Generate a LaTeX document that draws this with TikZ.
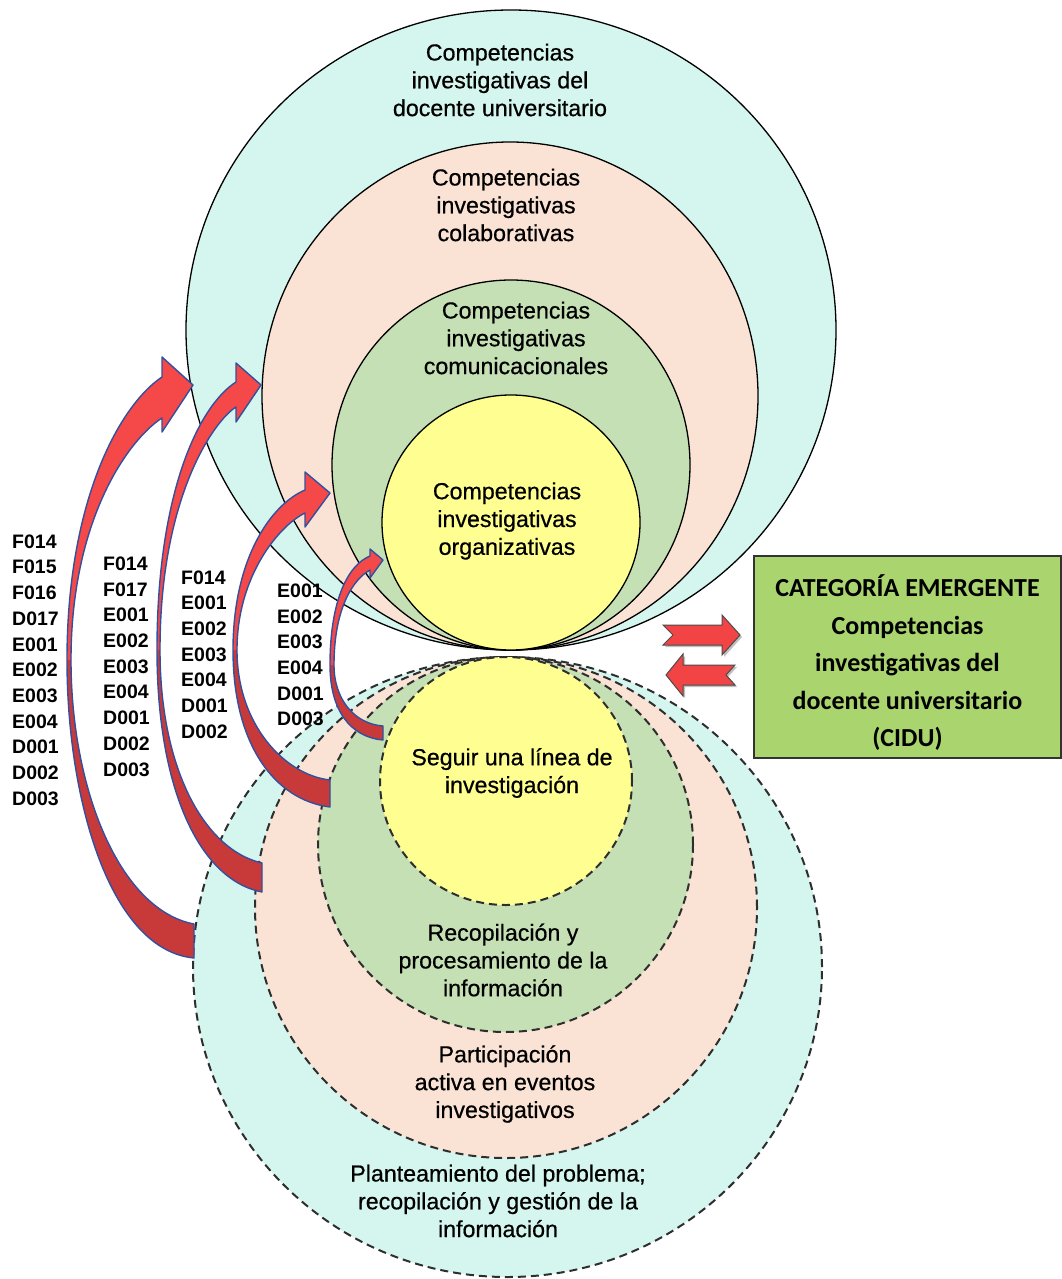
\documentclass[tikz,border=0pt]{standalone}
\usepackage{fontspec}
\setmainfont{Liberation Sans}
\newfontfamily\circfont{Liberation Sans}[FakeBold=0.6]
\newfontfamily\calfont{Carlito}
\usetikzlibrary{shapes.geometric}
\definecolor{tealc}{RGB}{213,246,239}
\definecolor{peachc}{RGB}{250,227,213}
\definecolor{greenc}{RGB}{197,224,180}
\definecolor{yellowc}{RGB}{255,255,145}
\definecolor{boxgreen}{RGB}{169,212,110}
\definecolor{redhi}{RGB}{245,72,72}
\definecolor{redlo}{RGB}{200,58,58}
\definecolor{arrowline}{RGB}{50,80,160}
\definecolor{smallred}{RGB}{242,68,68}
\begin{document}
\begin{tikzpicture}[x=1pt,y=-1pt,
  ring/.style={ellipse, draw=black, line width=1.3pt, inner sep=0pt, outer sep=0pt},
  dring/.style={ellipse, draw=black!82, line width=2pt, dash pattern=on 8pt off 5pt, inner sep=0pt, outer sep=0pt},
  ctext/.style={align=center, font=\circfont\fontsize{23.2}{27.8}\selectfont, inner sep=0pt},
  codes/.style={align=left, font=\bfseries\fontsize{19.5}{25.7}\selectfont, inner sep=0pt, anchor=west},
  hipart/.style={fill=redhi},
  lopart/.style={fill=redlo},
  arrline/.style={draw=arrowline, line width=1.4pt, line join=round},
  smallarr/.style={fill=smallred, draw=black!70, line width=1pt, line join=miter},
  shadowarr/.style={fill=black, fill opacity=0.25}
]
\fill[white] (0,0) rectangle (1062,1279);
\useasboundingbox (0,0) rectangle (1062,1279);

% top solid ellipses
\node[ring, fill=tealc, minimum width=650pt, minimum height=640pt] (t1) at (511,330) {};
\node[ring, fill=peachc, minimum width=496pt, minimum height=508pt] (t2) at (510,396) {};
\node[ring, fill=greenc, minimum width=358pt, minimum height=370pt] (t3) at (511,465) {};
\node[ring, fill=yellowc, minimum width=258pt, minimum height=255pt] (t4) at (511,522.5) {};

% bottom dashed ellipses
\node[dring, fill=tealc, minimum width=629pt, minimum height=620pt] (b1) at (507.5,967) {};
\node[dring, fill=peachc, minimum width=502pt, minimum height=501pt] (b2) at (506,907.5) {};
\node[dring, fill=greenc, minimum width=375pt, minimum height=375pt] (b3) at (505.5,844.5) {};
\node[dring, fill=yellowc, minimum width=252pt, minimum height=248pt] (b4) at (506,781) {};

% texts in circles
\node[ctext] (tt1) at (500,80) {Competencias\\investigativas del\\docente universitario};
\node[ctext] (tt2) at (506,205) {Competencias\\investigativas\\colaborativas};
\node[ctext] (tt3) at (516,338) {Competencias\\investigativas\\comunicacionales};
\node[ctext] (tt4) at (507,521) {Competencias\\investigativas\\organizativas};
\node[ctext] (bt4) at (512,773) {Seguir una línea de\\investigación};
\node[ctext] (bt3) at (503,960) {Recopilación y\\procesamiento de la\\información};
\node[ctext] (bt2) at (505,1084) {Participación\\activa en eventos\\investigativos};
\node[ctext] (bt1) at (498,1201) {Planteamiento del problema;\\recopilación y gestión de la\\información};

% ---------- curved arrows ----------
% arrow 1
\coordinate (a1T) at (193,385); \coordinate (a1Bu) at (162,357); \coordinate (a1Bl) at (162,432);
\coordinate (a1So) at (162,377); \coordinate (a1Si) at (162,418);
\coordinate (a1Lo) at (67,660); \coordinate (a1Li) at (71,660);
\coordinate (a1Tb) at (194,958); \coordinate (a1Tt) at (194,924);
\path[hipart] (a1So) -- (a1Bu) -- (a1T) -- (a1Bl) -- (a1Si) .. controls (128,440) and (71,520) .. (a1Li) -- (a1Lo) .. controls (67,500) and (120,405) .. (a1So) -- cycle;
\path[lopart] (a1Lo) .. controls (67,800) and (110,950) .. (a1Tb) -- (a1Tt) .. controls (120,910) and (71,790) .. (a1Li) -- cycle;
\path[arrline] (a1So) -- (a1Bu) -- (a1T) -- (a1Bl) -- (a1Si) .. controls (128,440) and (71,520) .. (a1Li) .. controls (71,790) and (120,910) .. (a1Tt) -- (a1Tb) .. controls (110,950) and (67,800) .. (a1Lo) .. controls (67,500) and (120,405) .. (a1So) -- cycle;

% arrow 2
\coordinate (a2T) at (261,385); \coordinate (a2Bu) at (236,363); \coordinate (a2Bl) at (236,422);
\coordinate (a2So) at (236,382); \coordinate (a2Si) at (236,407);
\coordinate (a2Lo) at (157,650); \coordinate (a2Li) at (160,650);
\coordinate (a2Tb) at (262,892); \coordinate (a2Tt) at (262,863);
\path[hipart] (a2So) -- (a2Bu) -- (a2T) -- (a2Bl) -- (a2Si) .. controls (215,420) and (160,495) .. (a2Li) -- (a2Lo) .. controls (157,490) and (200,405) .. (a2So) -- cycle;
\path[lopart] (a2Lo) .. controls (157,790) and (200,880) .. (a2Tb) -- (a2Tt) .. controls (205,850) and (160,770) .. (a2Li) -- cycle;
\path[arrline] (a2So) -- (a2Bu) -- (a2T) -- (a2Bl) -- (a2Si) .. controls (215,420) and (160,495) .. (a2Li) .. controls (160,770) and (205,850) .. (a2Tt) -- (a2Tb) .. controls (200,880) and (157,790) .. (a2Lo) .. controls (157,490) and (200,405) .. (a2So) -- cycle;

% arrow 3
\coordinate (a3T) at (330,493); \coordinate (a3Bu) at (305,472); \coordinate (a3Bl) at (305,527);
\coordinate (a3So) at (305,490); \coordinate (a3Si) at (305,513);
\coordinate (a3Lo) at (233,650); \coordinate (a3Li) at (237,650);
\coordinate (a3Tb) at (330,807); \coordinate (a3Tt) at (330,780);
\path[hipart] (a3So) -- (a3Bu) -- (a3T) -- (a3Bl) -- (a3Si) .. controls (280,525) and (237,575) .. (a3Li) -- (a3Lo) .. controls (233,560) and (270,505) .. (a3So) -- cycle;
\path[lopart] (a3Lo) .. controls (233,745) and (275,800) .. (a3Tb) -- (a3Tt) .. controls (285,775) and (237,725) .. (a3Li) -- cycle;
\path[arrline] (a3So) -- (a3Bu) -- (a3T) -- (a3Bl) -- (a3Si) .. controls (280,525) and (237,575) .. (a3Li) .. controls (237,725) and (285,775) .. (a3Tt) -- (a3Tb) .. controls (275,800) and (233,745) .. (a3Lo) .. controls (233,560) and (270,505) .. (a3So) -- cycle;

% arrow 4
\coordinate (a4T) at (383,560); \coordinate (a4Bu) at (370,549); \coordinate (a4Bl) at (370,578);
\coordinate (a4So) at (370,556); \coordinate (a4Si) at (370,570);
\coordinate (a4Lo) at (330,665); \coordinate (a4Li) at (334,665);
\coordinate (a4Tb) at (383,740); \coordinate (a4Tt) at (383,726);
\path[hipart] (a4So) -- (a4Bu) -- (a4T) -- (a4Bl) -- (a4Si) .. controls (352,580) and (334,610) .. (a4Li) -- (a4Lo) .. controls (330,600) and (348,565) .. (a4So) -- cycle;
\path[lopart] (a4Lo) .. controls (330,710) and (350,737) .. (a4Tb) -- (a4Tt) .. controls (355,724) and (334,700) .. (a4Li) -- cycle;
\path[arrline] (a4So) -- (a4Bu) -- (a4T) -- (a4Bl) -- (a4Si) .. controls (352,580) and (334,610) .. (a4Li) .. controls (334,700) and (355,724) .. (a4Tt) -- (a4Tb) .. controls (350,737) and (330,710) .. (a4Lo) .. controls (330,600) and (348,565) .. (a4So) -- cycle;

% code columns
\node[codes] (c1) at (12,670) {F014\\F015\\F016\\D017\\E001\\E002\\E003\\E004\\D001\\D002\\D003};
\node[codes] (c2) at (103,666.5) {F014\\F017\\E001\\E002\\E003\\E004\\D001\\D002\\D003};
\node[codes] (c3) at (181,654.5) {F014\\E001\\E002\\E003\\E004\\D001\\D002};
\node[codes] (c4) at (277,655) {E001\\E002\\E003\\E004\\D001\\D003};

% small notched arrows
\path[shadowarr] (665,627) -- (724,627) -- (724,617) -- (742,637) -- (724,657) -- (724,647) -- (665,647) -- (675,637) -- cycle;
\path[smallarr] (663,625) -- (722,625) -- (722,615) -- (740,635) -- (722,655) -- (722,645) -- (663,645) -- (673,635) -- cycle;
\path[shadowarr] (668,677) -- (685,656) -- (685,667) -- (737,667) -- (728,677) -- (737,687) -- (685,687) -- (685,698) -- cycle;
\path[smallarr] (666,675) -- (683,654) -- (683,665) -- (735,665) -- (726,675) -- (735,685) -- (683,685) -- (683,696) -- cycle;

% category box
\node[draw=black!80, line width=1.3pt, fill=boxgreen, minimum width=307pt, minimum height=202pt, inner sep=0pt, outer sep=0pt] (cat) at (907.5,657) {};
\node[align=center, font=\calfont\bfseries\fontsize{26}{37.5}\selectfont, inner sep=0pt] (cattext) at (907.5,663) {CATEGORÍA EMERGENTE\\Competencias\\investigativas del\\docente universitario\\(CIDU)};
\end{tikzpicture}
\end{document}
